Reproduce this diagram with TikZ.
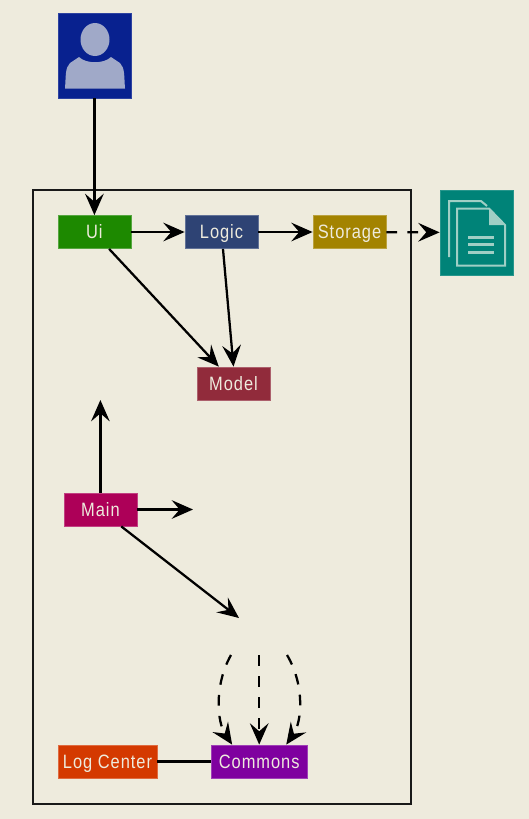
\documentclass[tikz,border=0pt]{standalone}
\usepackage{fontspec}
\setmainfont[FakeStretch=0.85,LetterSpace=5]{Liberation Sans}
\usetikzlibrary{arrows.meta}
\definecolor{paper}{HTML}{EEEBDD}
\definecolor{uicol}{HTML}{1D8900}
\definecolor{logiccol}{HTML}{2E4374}
\definecolor{storagecol}{HTML}{A38300}
\definecolor{modelcol}{HTML}{912B3B}
\definecolor{maincol}{HTML}{AD0058}
\definecolor{logcol}{HTML}{D43900}
\definecolor{commonscol}{HTML}{7F009F}
\definecolor{usercol}{HTML}{08218F}
\definecolor{userfig}{HTML}{A0A9C8}
\definecolor{filecol}{HTML}{008378}
\definecolor{filefig}{HTML}{9FCFC5}
\tikzset{
  comp/.style={rectangle,draw=#1!75!white,fill=#1,text=paper,line width=.6pt,inner sep=0pt,
    minimum width=54.75pt,minimum height=24.75pt,font=\fontsize{14.5pt}{15pt}\selectfont,
    text height=10.2pt,text depth=-.5pt},
  wide/.style={minimum width=#1},
  icon/.style={rectangle,fill=#1,draw=#1!85!white,line width=.6pt,inner sep=0pt,minimum width=54.75pt},
  link/.style={line width=1.7pt,-{Stealth[length=16pt,width=14pt,inset=6pt]}},
  dep/.style={link,dash pattern=on 8pt off 7.75pt}
}
\begin{document}
\begin{tikzpicture}[x=.75pt,y=-.75pt]
\fill[paper] (0,0) rectangle (529,819);
\draw[line width=1.7pt,black!90] (33,190) rectangle (411,804);
\node[icon=usercol,minimum height=63.75pt] (user) at (94.4,55.5) {};
\fill[userfig] (95,39.5) ellipse [x radius=14.5,y radius=16.5];
\fill[userfig] (65,88.5) .. controls (66,76) and (65,68) .. (70,63) -- (79,57) .. controls (86,64) and (104,64) .. (111,57) -- (120,63) .. controls (125,68) and (124,76) .. (125,88.5) -- cycle;
\node[icon=filecol,minimum height=63.75pt] (file) at (476.5,232.5) {};
\draw[filefig,line width=1.5pt] (449,257) -- (449,201) -- (481,201) -- (487,206);
\draw[filefig,line width=1.5pt] (457,208.5) -- (489,208.5) -- (505,225) -- (505,265.5) -- (457,265.5) -- cycle;
\fill[filefig] (489,209) -- (489,225) -- (504,225) -- cycle;
\draw[filefig,line width=1.8pt] (468,237.5) -- (494,237.5);
\draw[filefig,line width=1.8pt] (468,244.5) -- (494,244.5);
\draw[filefig,line width=1.8pt] (468,252.5) -- (494,252.5);
\node[comp=uicol] (ui) at (94.4,232) {Ui};
\node[comp=logiccol] (logic) at (221.5,232) {Logic};
\node[comp=storagecol] (storage) at (349.5,232) {Storage};
\node[comp=modelcol] (model) at (233.5,383.5) {Model};
\node[comp=maincol] (main) at (100.4,509.5) {Main};
\node[comp=logcol,wide=74.25pt] (logc) at (107.5,761.5) {Log Center};
\node[comp=commonscol,wide=72pt] (commons) at (259.2,761.5) {Commons};
\coordinate (upend) at (100.4,400);
\coordinate (rightend) at (193,509.5);
\coordinate (downend) at (239,618);
\coordinate (dl) at (231,655);
\coordinate (dm) at (259.2,655);
\coordinate (dr) at (287,655);
\draw[link] (user) -- (ui);
\draw[link] (ui) -- (logic);
\draw[link] (logic) -- (storage);
\draw[link] (ui.-49) -- (model.131);
\draw[link] (logic.-85) -- (model.90);
\draw[dep] (storage) -- (file);
\draw[link] (main) -- (upend);
\draw[link] (main) -- (rightend);
\draw[link] (main.-39) -- (downend);
\draw[dep] (dl) .. controls (214,685) and (217,722) .. (commons.148);
\draw[dep] (dm) -- (commons);
\draw[dep] (dr) .. controls (305,685) and (302,722) .. (commons.32);
\draw[line width=1.7pt] (logc) -- (commons);
\end{tikzpicture}
\end{document}
